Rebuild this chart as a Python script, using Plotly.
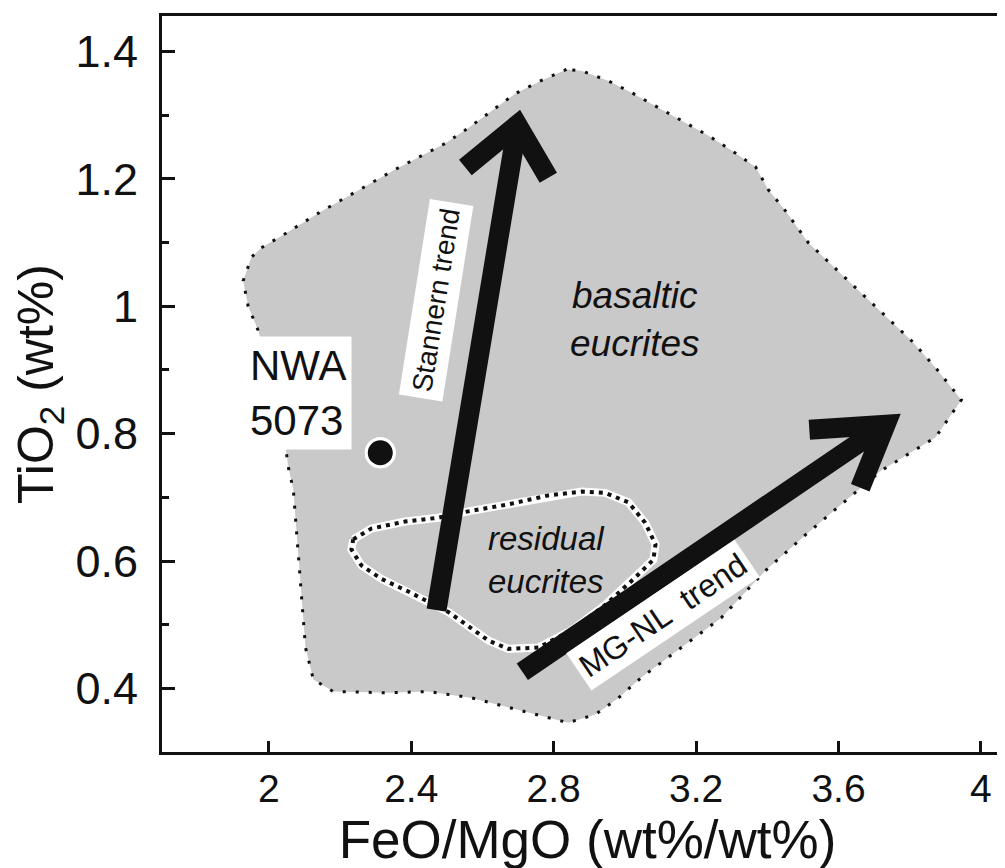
import plotly.graph_objects as go

# ---- data ----
basaltic_x = [2.836, 2.763, 2.692, 2.625, 2.560, 2.496, 2.428, 2.355, 2.251, 2.147, 2.046, 1.979,
              1.951, 1.928, 1.942, 1.971, 1.979, 2.013, 2.046, 2.055, 2.069, 2.077, 2.086, 2.094,
              2.103, 2.125, 2.181, 2.336, 2.448, 2.569, 2.692, 2.841, 2.917, 2.982, 3.046, 3.159,
              3.271, 3.395, 3.507, 3.608, 3.720, 3.872, 3.945, 3.872, 3.805, 3.656, 3.515, 3.451,
              3.403, 3.367, 3.299, 3.235, 3.164, 3.094, 3.024, 2.954, 2.878, 2.836]
basaltic_y = [1.372, 1.354, 1.334, 1.306, 1.280, 1.256, 1.236, 1.215, 1.182, 1.149, 1.114, 1.092,
              1.077, 1.040, 1.000, 0.961, 0.943, 0.864, 0.783, 0.747, 0.711, 0.652, 0.590, 0.527,
              0.464, 0.414, 0.395, 0.393, 0.395, 0.385, 0.367, 0.346, 0.359, 0.385, 0.417, 0.464,
              0.511, 0.585, 0.641, 0.689, 0.742, 0.794, 0.853, 0.904, 0.946, 1.025, 1.100, 1.150,
              1.183, 1.219, 1.245, 1.268, 1.290, 1.312, 1.334, 1.354, 1.370, 1.372]

residual_x = [2.237, 2.288, 2.383, 2.476, 2.560, 2.673, 2.785, 2.878, 2.945, 3.010, 3.057, 3.086,
              3.080, 3.029, 2.945, 2.850, 2.757, 2.673, 2.617, 2.504, 2.392, 2.316, 2.260, 2.232, 2.237]
residual_y = [0.634, 0.651, 0.662, 0.668, 0.678, 0.689, 0.703, 0.709, 0.707, 0.692, 0.660, 0.626,
              0.602, 0.574, 0.531, 0.491, 0.464, 0.462, 0.475, 0.520, 0.552, 0.572, 0.593, 0.618, 0.634]

stannern_shaft_x = [2.471, 2.698]
stannern_shaft_y = [0.523, 1.285]
stannern_head_x = [2.552, 2.698, 2.785]
stannern_head_y = [1.218, 1.285, 1.202]

mgnl_shaft_x = [2.712, 3.732]
mgnl_shaft_y = [0.426, 0.814]
mgnl_head_x = [3.518, 3.732, 3.661]
mgnl_head_y = [0.806, 0.814, 0.715]

nwa_x = [2.313]
nwa_y = [0.770]

x_ticks = [2, 2.4, 2.8, 3.2, 3.6, 4]
x_ticklabels = ["2", "2.4", "2.8", "3.2", "3.6", "4"]
y_ticks = [0.4, 0.6, 0.8, 1.0, 1.2, 1.4]
y_ticklabels = ["0.4", "0.6", "0.8", "1", "1.2", "1.4"]

FONT = "Liberation Sans, Arial, sans-serif"
INK = "#111111"
GRAY = "#c9c9c9"

fig = go.Figure()

# basaltic eucrites field
fig.add_trace(go.Scatter(x=basaltic_x, y=basaltic_y, mode="lines", fill="toself",
                         fillcolor=GRAY, line=dict(width=0, color=GRAY), hoverinfo="skip"))
fig.add_trace(go.Scatter(x=basaltic_x, y=basaltic_y, mode="lines",
                         line=dict(color=INK, width=3, dash="3px,10px"), hoverinfo="skip"))

# residual eucrites field
fig.add_trace(go.Scatter(x=residual_x, y=residual_y, mode="lines",
                         line=dict(color="white", width=8), hoverinfo="skip"))
fig.add_trace(go.Scatter(x=residual_x, y=residual_y, mode="lines",
                         line=dict(color=INK, width=4, dash="4px,5px"), hoverinfo="skip"))

# arrows
for sx, sy, hx, hy in [(stannern_shaft_x, stannern_shaft_y, stannern_head_x, stannern_head_y),
                       (mgnl_shaft_x, mgnl_shaft_y, mgnl_head_x, mgnl_head_y)]:
    fig.add_trace(go.Scatter(x=sx, y=sy, mode="lines",
                             line=dict(color=INK, width=20), hoverinfo="skip"))
    fig.add_trace(go.Scatter(x=hx, y=hy, mode="lines",
                             line=dict(color=INK, width=20), hoverinfo="skip"))

# NWA 5073 point
fig.add_trace(go.Scatter(x=nwa_x, y=nwa_y, mode="markers",
                         marker=dict(size=28, color=INK, line=dict(color="white", width=3)),
                         hoverinfo="skip"))

# same point on the right-hand axis (gives the right-side ticks)
fig.add_trace(go.Scatter(x=nwa_x, y=nwa_y, yaxis="y2", mode="markers",
                         marker=dict(size=28, color=INK, line=dict(color="white", width=3)),
                         hoverinfo="skip"))

ann_font = dict(family=FONT, color=INK)
fig.add_annotation(x=2.083, y=0.864, text="NWA<br>5073", showarrow=False, align="left",
                   bgcolor="white", borderpad=5, font=dict(size=42, **ann_font))
fig.add_annotation(x=3.029, y=0.979, text="<i>basaltic<br>eucrites</i>", showarrow=False,
                   font=dict(size=37, **ann_font))
fig.add_annotation(x=2.779, y=0.602, text="<i>residual<br>eucrites</i>", showarrow=False,
                   font=dict(size=33, **ann_font))
fig.add_annotation(x=2.470, y=1.009, text="Stannern trend", showarrow=False, textangle=-81,
                   bgcolor="white", borderpad=6, font=dict(size=28, **ann_font))
fig.add_annotation(x=3.108, y=0.515, text="MG-NL\u00a0\u00a0trend", showarrow=False, textangle=-34,
                   bgcolor="white", borderpad=4, font=dict(size=32, **ann_font))

fig.update_layout(
    width=1005, height=868,
    margin=dict(l=154, r=0, t=8, b=124),
    paper_bgcolor="white", plot_bgcolor="white",
    showlegend=False,
    font=dict(family=FONT, color=INK),
    xaxis=dict(range=[1.7, 4.09], tickvals=x_ticks, ticktext=x_ticklabels,
               ticks="inside", ticklen=11, tickwidth=3, tickcolor=INK,
               showline=True, linewidth=3, linecolor=INK, mirror=True,
               showgrid=False, zeroline=False, tickfont=dict(size=39),
               title=dict(text="FeO/MgO (wt%/wt%)", font=dict(size=53), standoff=6)),
    yaxis=dict(range=[0.3, 1.456], tickvals=y_ticks, ticktext=y_ticklabels,
               ticks="inside", ticklen=13, tickwidth=3, tickcolor=INK,
               minor=dict(ticks="inside", ticklen=7, tickwidth=3, tickcolor=INK, dtick=0.1, tick0=0.3),
               showline=True, linewidth=3, linecolor=INK,
               showgrid=False, zeroline=False, tickfont=dict(size=45), ticklabelstandoff=12,
               title=dict(text="TiO<sub>2</sub> (wt%)", font=dict(size=50), standoff=6)),
    yaxis2=dict(range=[0.3, 1.456], overlaying="y", side="right", anchor="x",
                tickvals=y_ticks, showticklabels=False,
                ticks="inside", ticklen=10, tickwidth=3, tickcolor=INK,
                minor=dict(ticks="inside", ticklen=5, tickwidth=3, tickcolor=INK, dtick=0.1, tick0=0.3),
                showline=False, showgrid=False, zeroline=False),
)

fig.write_html("out.html")
